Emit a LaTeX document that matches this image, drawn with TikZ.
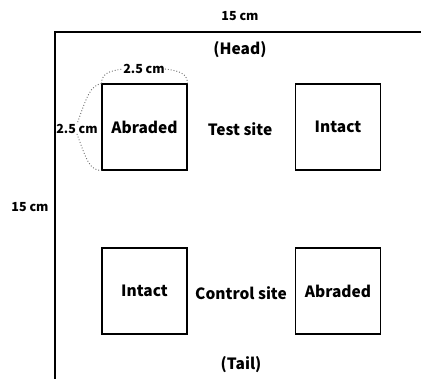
\documentclass[tikz,border=0pt]{standalone}
\usepackage{fontspec}
\setmainfont{Noto Sans CJK KR}
\begin{document}
\begin{tikzpicture}[x=1pt,y=-1pt,
  site/.style={draw,line width=1.1pt,minimum width=85pt,minimum height=86pt,inner sep=0pt,font=\fontsize{15.5}{17}\selectfont\bfseries},
  lbl/.style={inner sep=0pt,font=\fontsize{15.5}{17}\selectfont\bfseries},
  dim/.style={inner sep=0pt,font=\fontsize{12.5}{14}\selectfont\bfseries},
  brace/.style={draw=black!60,dotted,line width=0.9pt}]
\useasboundingbox (0,0) rectangle (421,379);
\coordinate (ftop) at (421,32);
\coordinate (fcorner) at (55,32);
\coordinate (fbot) at (55,379);
\draw[line width=1.1pt] (ftop) -- (fcorner) -- (fbot);
\node[site] (A1) at (144.5,127) {Abraded};
\node[site] (I1) at (338,127) {Intact};
\node[site] (I2) at (144.5,291) {Intact};
\node[site] (A2) at (338,291) {Abraded};
\node[dim] (w) at (240,16) {15 cm};
\node[dim] (h) at (30,207) {15 cm};
\node[lbl] (head) at (240,50) {(Head)};
\node[lbl] (test) at (240,129) {Test site};
\node[lbl] (ctrl) at (241,293) {Control site};
\node[lbl] (tail) at (241,365) {(Tail)};
\node[dim] (tw) at (144,69) {2.5 cm};
\node[dim] (lw) at (77,129) {2.5 cm};
\draw[brace] (A1.north west) .. controls (102,74) and (108,71) .. (tw.west);
\draw[brace] (tw.east) .. controls (181,71) and (187,74) .. (A1.north east);
\draw[brace] (A1.north west) .. controls (90,86) and (87,96) .. (lw.north);
\draw[brace] (lw.south) .. controls (87,162) and (90,170) .. (A1.south west);
\end{tikzpicture}
\end{document}
